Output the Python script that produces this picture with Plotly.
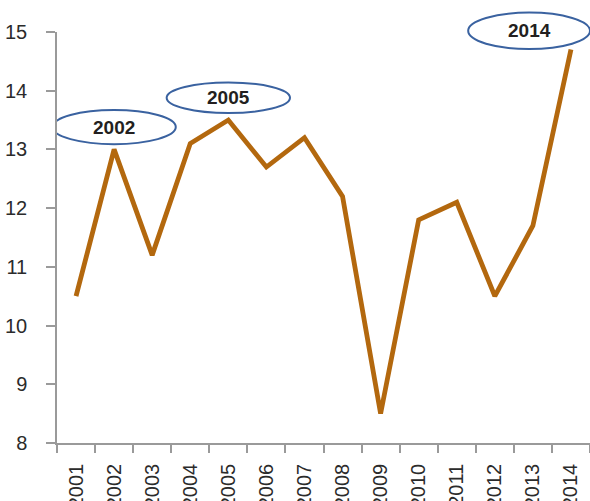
import plotly.graph_objects as go

# Yearly series
years = ["2001", "2002", "2003", "2004", "2005", "2006", "2007",
         "2008", "2009", "2010", "2011", "2012", "2013", "2014"]
values = [10.5, 13.0, 11.2, 13.1, 13.5, 12.7, 13.2,
          12.2, 8.5, 11.8, 12.1, 10.5, 11.7, 14.7]

# Highlighted years: label, centre (category index, value), half-width, half-height
callout_labels = ["2002", "2005", "2014"]
callout_x = [1.0, 4.0, 11.9]
callout_y = [13.38, 13.88, 15.02]
callout_rx = [1.62, 1.62, 1.6]
callout_ry = [0.29, 0.26, 0.31]

Y_MIN, Y_MAX = 8, 15
FONT = "Liberation Sans, Arial, sans-serif"


def to_paper(v):
    return (v - Y_MIN) / (Y_MAX - Y_MIN)


fig = go.Figure()
fig.add_trace(go.Scatter(
    x=years, y=values, mode="lines",
    line=dict(color="#B3680E", width=4.8),
    hoverinfo="skip", cliponaxis=False,
))

shapes = []
annotations = []
for lab, cx, cy, rx, ry in zip(callout_labels, callout_x, callout_y,
                               callout_rx, callout_ry):
    shapes.append(dict(
        type="circle", xref="x", yref="paper",
        x0=cx - rx, x1=cx + rx,
        y0=to_paper(cy - ry), y1=to_paper(cy + ry),
        line=dict(color="#3A62A0", width=2), layer="above",
    ))
    annotations.append(dict(
        x=cx, y=to_paper(cy), xref="x", yref="paper", text=f"<b>{lab}</b>",
        xanchor="center", yanchor="middle",
        showarrow=False, font=dict(family=FONT, size=19, color="#231F20"),
    ))

fig.update_layout(
    width=590, height=501,
    margin=dict(l=57, r=0, t=32, b=58, autoexpand=False),
    paper_bgcolor="white", plot_bgcolor="white",
    showlegend=False,
    shapes=shapes, annotations=annotations,
    font=dict(family=FONT, color="#333333"),
)
fig.update_xaxes(
    type="category",
    range=[-0.5, 13.5],
    tickson="boundaries",
    tickangle=-90,
    automargin=False,
    showline=True, linecolor="#9A9A9A", linewidth=1.5,
    ticks="outside", ticklen=8, tickcolor="#9A9A9A", tickwidth=1.5,
    showgrid=False, zeroline=False,
    ticklabelstandoff=11,
    tickfont=dict(family=FONT, size=20, color="#2B2B2B"),
)
fig.update_yaxes(
    range=[Y_MIN, Y_MAX], dtick=1,
    automargin=False,
    showline=True, linecolor="#9A9A9A", linewidth=1.5,
    ticks="outside", ticklen=9, tickcolor="#9A9A9A", tickwidth=1.5,
    showgrid=False, zeroline=False,
    ticklabelstandoff=15,
    tickfont=dict(family=FONT, size=20, color="#2B2B2B"),
)

fig.write_html("out.html")
